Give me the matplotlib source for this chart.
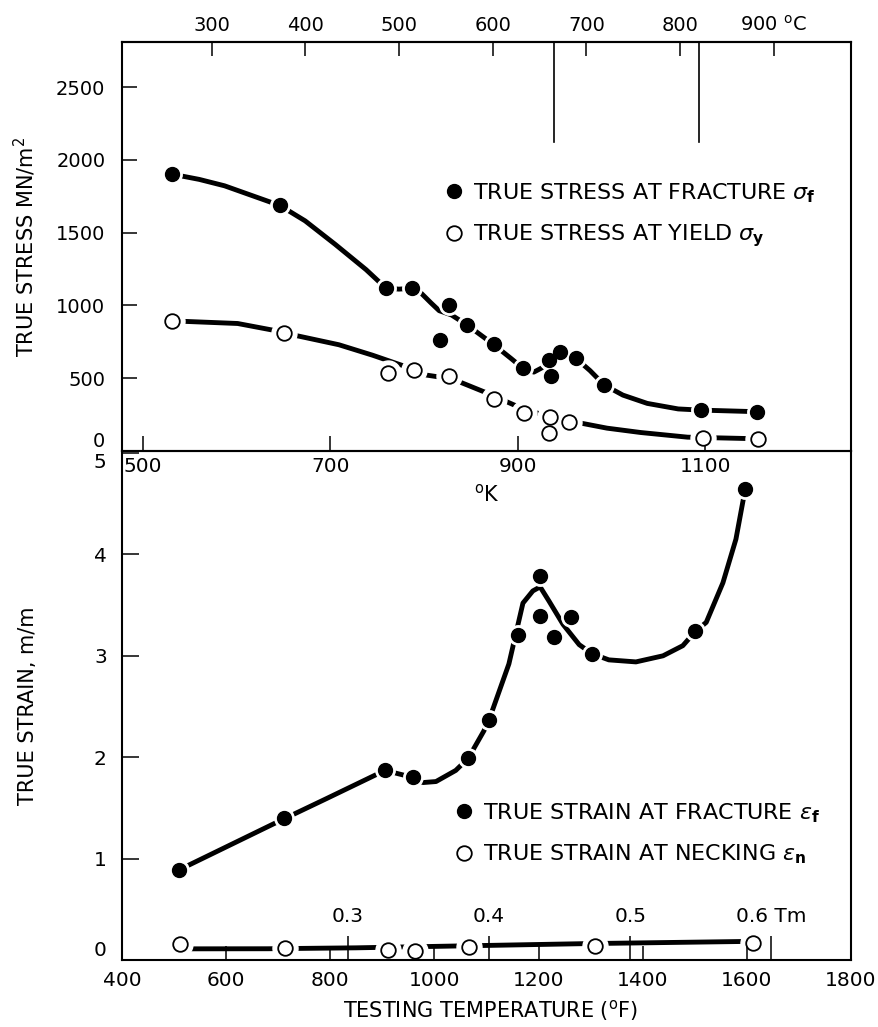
import matplotlib.pyplot as plt

plt.rcParams['font.family'] = ['DejaVu Sans']
plt.rcParams['mathtext.fontset'] = 'dejavusans'

# ---- upper panel: true stress (MN/m^2) vs absolute temperature (K)
frac_stress_K = [531, 646, 759, 787, 817, 826, 846, 874, 905, 933, 935, 945, 962, 992, 1095, 1155]
frac_stress = [1902, 1687, 1120, 1118, 764, 1005, 865, 732, 570, 624, 513, 678, 636, 454, 281, 270]
frac_stress_fit_K = [531, 560, 587, 646, 673, 705, 738, 759, 773, 787, 797, 807, 816, 829, 846,
                     874, 893, 905, 917, 929, 936, 945, 955, 962, 977, 992, 1012, 1038, 1071, 1095, 1155]
frac_stress_fit = [1902, 1866, 1822, 1687, 1581, 1420, 1246, 1120, 1112, 1118, 1083, 1019, 964, 935, 865,
                   732, 634, 570, 542, 583, 644, 678, 677, 636, 552, 454, 384, 327, 289, 281, 270]

yield_stress_K = [531, 650, 761, 789, 827, 875, 906, 933, 934, 955, 1098, 1156]
yield_stress = [894, 810, 539, 558, 514, 359, 260, 127, 237, 201, 88, 84]
yield_fit_K = [531, 601, 638, 662, 709, 745, 777, 802, 830, 866, 896, 917, 966, 995, 1031, 1081, 1156]
yield_fit = [894, 876, 831, 795, 730, 658, 587, 522, 495, 401, 316, 266, 193, 157, 127, 95, 84]

stress_ticks = [0, 500, 1000, 1500, 2000, 2500]
kelvin_ticks = [500, 700, 900, 1100]
celsius_ticks = [300, 400, 500, 600, 700, 800, 900]
celsius_labels = ['300', '400', '500', '600', '700', '800', '900 $^{\\mathrm{o}}$C']
marked_C = [665, 820]

# ---- lower panel: true strain vs testing temperature (F)
frac_strain_F = [510, 711, 905, 959, 1065, 1105, 1161, 1203, 1203, 1230, 1262, 1303, 1501, 1597]
frac_strain = [0.89, 1.40, 1.87, 1.80, 1.99, 2.37, 3.21, 3.79, 3.39, 3.19, 3.38, 3.02, 3.24, 4.65]
frac_strain_fit_F = [510, 690, 792, 905, 959, 978, 1003, 1041, 1065, 1095, 1105, 1143, 1170, 1189, 1203,
                     1220, 1247, 1278, 1303, 1335, 1387, 1439, 1477, 1501, 1522, 1554, 1579, 1597]
frac_strain_fit = [0.89, 1.34, 1.59, 1.87, 1.80, 1.75, 1.76, 1.87, 1.99, 2.26, 2.37, 2.92, 3.52, 3.64, 3.68,
                   3.54, 3.31, 3.11, 3.02, 2.96, 2.94, 3.00, 3.10, 3.24, 3.33, 3.72, 4.15, 4.65]

neck_strain_F = [511, 713, 911, 963, 1066, 1308, 1612]
neck_strain = [0.16, 0.12, 0.10, 0.09, 0.13, 0.14, 0.17]
neck_fit_F = [511, 680, 849, 1041, 1285, 1612]
neck_fit = [0.110, 0.111, 0.120, 0.138, 0.161, 0.184]

fahr_ticks = [400, 600, 800, 1000, 1200, 1400, 1600, 1800]
strain_ticks = [0, 1, 2, 3, 4, 5]
tm_frac = ['0.3', '0.4', '0.5', '0.6 Tm']
tm_F = [834, 1105, 1376, 1646]


def f_to_k(f):
    return (f - 32) * 5 / 9 + 273.15


def draw_series(ax, x, y, fit_x, fit_y, filled, label):
    # curve first, then a white halo so the line breaks round every point
    ax.plot(fit_x, fit_y, color='black', lw=3.5, solid_capstyle='butt',
            solid_joinstyle='round', zorder=2)
    halo = 14 if filled else 18
    ax.plot(x, y, ls='none', marker='o', ms=halo, mfc='white', mec='white', zorder=2.2)
    if filled:
        h, = ax.plot(x, y, ls='none', marker='o', ms=10, mfc='black', mec='black',
                     zorder=3, label=label)
    else:
        h, = ax.plot(x, y, ls='none', marker='o', ms=10.5, mfc='white', mec='black',
                     mew=1.3, zorder=3, label=label)
    return h


W, H = 879, 1027
fig = plt.figure(figsize=(W / 100, H / 100), dpi=100)
left, right = 122, 851
ax_bot = fig.add_axes([left / W, 1 - 960 / H, (right - left) / W, (960 - 451) / H])
ax_top = fig.add_axes([left / W, 1 - 451 / H, (right - left) / W, (451 - 42) / H])

for ax in (ax_top, ax_bot):
    ax.set_facecolor('none')
    ax.set_axisbelow(False)
    for s in ax.spines.values():
        s.set_linewidth(1.5)

# ---------------- upper panel
h1 = draw_series(ax_top, frac_stress_K, frac_stress, frac_stress_fit_K, frac_stress_fit, True,
                 'TRUE STRESS AT FRACTURE $\\sigma_{\\mathbf{f}}$')
h2 = draw_series(ax_top, yield_stress_K, yield_stress, yield_fit_K, yield_fit, False,
                 'TRUE STRESS AT YIELD $\\sigma_{\\mathbf{y}}$')

ax_top.set_xlim(f_to_k(400), f_to_k(1800))
ax_top.set_ylim(0, 2810)
ax_top.set_xticks(kelvin_ticks)
ax_top.set_yticks(stress_ticks)
ax_top.tick_params(axis='x', direction='in', length=11, width=1.1, pad=4, labelsize=14.5)
ax_top.tick_params(axis='y', direction='in', length=11, width=1.1, pad=12, labelsize=14)
ax_top.get_yticklabels()[0].set_verticalalignment('bottom')
ax_top.set_xlabel('$^{\\mathrm{o}}$K', fontsize=15, labelpad=6)
ax_top.set_ylabel('TRUE STRESS MN/m$^2$', fontsize=15)
ax_top.yaxis.set_label_coords(-0.115, 0.5)

sec = ax_top.secondary_xaxis('top', functions=(lambda k: k - 273.15, lambda c: c + 273.15))
sec.set_xticks(celsius_ticks, labels=celsius_labels)
sec.tick_params(direction='in', length=10, width=1.1, pad=5, labelsize=14)
sec.spines['top'].set_linewidth(1.5)

for c in marked_C:
    ax_top.axvline(c + 273.15, ymin=0.755, ymax=1, color='black', lw=1.2)

ax_top.legend(handles=[h1, h2], loc='upper left', bbox_to_anchor=(446 / W, 1 - 181 / H),
              bbox_transform=fig.transFigure, frameon=False, fontsize=16, handlelength=0.7,
              handletextpad=0.5, labelspacing=0.8, borderpad=0, borderaxespad=0)

# ---------------- lower panel
h3 = draw_series(ax_bot, frac_strain_F, frac_strain, frac_strain_fit_F, frac_strain_fit, True,
                 'TRUE STRAIN AT FRACTURE $\\epsilon_{\\mathbf{f}}$')
h4 = draw_series(ax_bot, neck_strain_F, neck_strain, neck_fit_F, neck_fit, False,
                 'TRUE STRAIN AT NECKING $\\epsilon_{\\mathbf{n}}$')

ax_bot.set_xlim(400, 1800)
ax_bot.set_ylim(0, 5.02)
ax_bot.set_xticks(fahr_ticks)
ax_bot.set_yticks(strain_ticks)
ax_bot.set_xticks(tm_F, minor=True)
ax_bot.tick_params(axis='x', which='major', direction='in', length=10, width=1.1, pad=8, labelsize=14.5)
ax_bot.tick_params(axis='x', which='minor', direction='in', length=17, width=1.1)
ax_bot.tick_params(axis='y', direction='in', length=12, width=1.1, pad=11, labelsize=14.5)
ytl = ax_bot.get_yticklabels()
ytl[-1].set_verticalalignment('top')
ytl[0].set_verticalalignment('bottom')
for f, lab in zip(tm_F, tm_frac):
    ax_bot.text(f, 0.43, lab, ha='center', va='center', fontsize=14.5)

ax_bot.set_xlabel('TESTING TEMPERATURE ($^{\\mathrm{o}}$F)', fontsize=15)
ax_bot.xaxis.set_label_coords(0.505, -0.075)
ax_bot.set_ylabel('TRUE STRAIN, m/m', fontsize=15)
ax_bot.yaxis.set_label_coords(-0.115, 0.5)

ax_bot.legend(handles=[h3, h4], loc='upper left', bbox_to_anchor=(456 / W, 1 - 801 / H),
              bbox_transform=fig.transFigure, frameon=False, fontsize=16, handlelength=0.7,
              handletextpad=0.5, labelspacing=0.8, borderpad=0, borderaxespad=0)

fig.savefig('out.png', dpi=100)
